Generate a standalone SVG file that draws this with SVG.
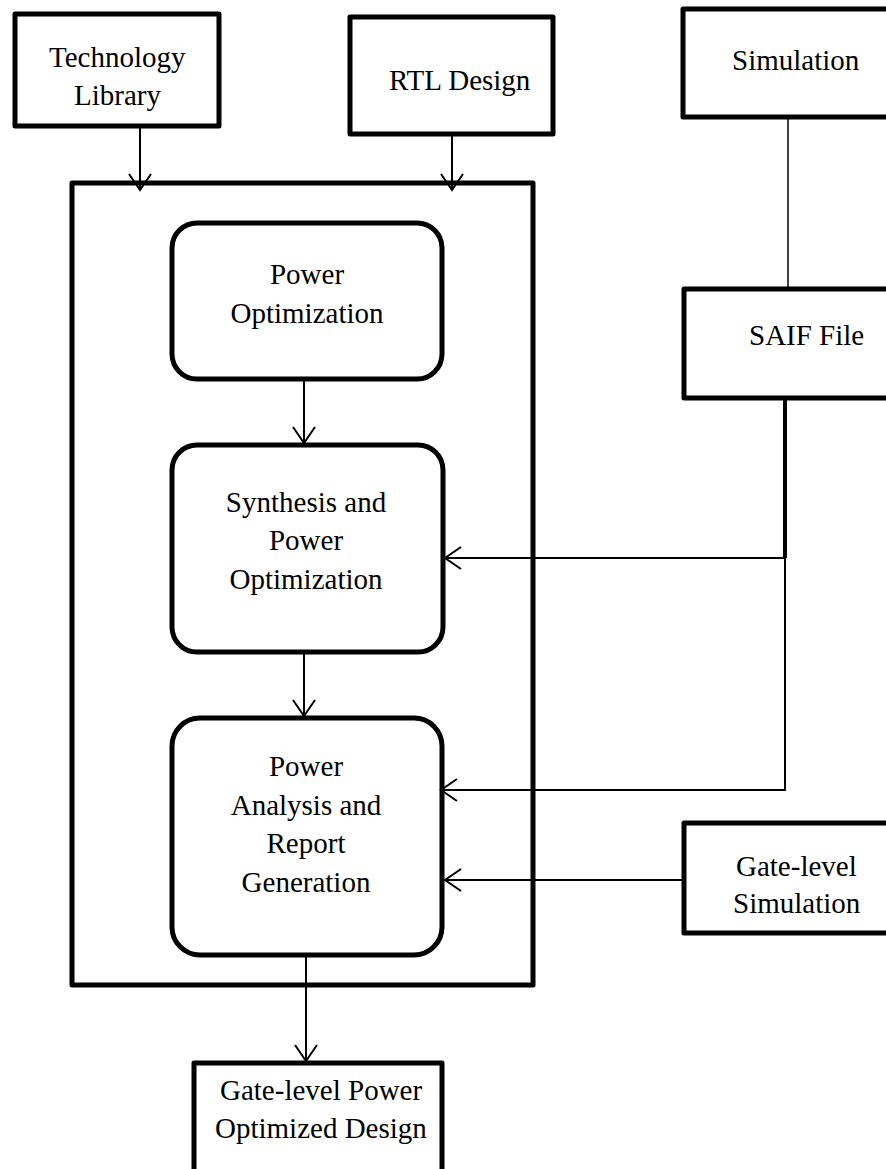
<svg xmlns="http://www.w3.org/2000/svg" width="886" height="1169" viewBox="0 0 886 1169">
<style>
.box{fill:#fff;stroke:#000;stroke-width:5;stroke-linejoin:round}
.t{font-family:"Liberation Serif","Times New Roman",serif;font-size:29px;fill:#000}
.c{text-anchor:middle}
.conn{fill:none;stroke:#000;stroke-width:2}
</style>
<defs>
<marker id="arr" viewBox="-18 -12 20 24" markerWidth="20" markerHeight="24" markerUnits="userSpaceOnUse" refX="0" refY="0" orient="auto">
<path d="M-16,-11 L0,0 L-16,11" fill="none" stroke="#000" stroke-width="2"/>
</marker>
</defs>
<rect width="886" height="1169" fill="#fff"/>
<g id="outer"><rect class="box" x="72" y="183" width="461" height="802" fill="none" style="fill:none"/></g>
<g id="tech"><rect class="box" x="15" y="14" width="204" height="112"/><text class="t" x="49" y="67">Technology</text><text class="t" x="74" y="105">Library</text></g>
<g id="rtl"><rect class="box" x="350" y="17" width="203" height="117"/><text class="t" x="389" y="90">RTL Design</text></g>
<g id="sim"><rect class="box" x="683" y="9" width="215" height="108"/><text class="t" x="732" y="70">Simulation</text></g>
<g id="saif"><rect class="box" x="684" y="289" width="215" height="109"/><text class="t" x="749" y="345">SAIF File</text></g>
<g id="glsim"><rect class="box" x="684" y="823" width="215" height="110"/><text class="t" x="736" y="876">Gate-level</text><text class="t" x="733" y="913">Simulation</text></g>
<g id="popt"><rect class="box" x="172" y="223" width="270" height="156" rx="25"/><text class="t c" x="307" y="284">Power</text><text class="t c" x="307" y="323">Optimization</text></g>
<g id="synth"><rect class="box" x="172" y="445" width="271" height="207" rx="25"/><text class="t c" x="306" y="512">Synthesis and</text><text class="t c" x="306" y="550">Power</text><text class="t c" x="306" y="589">Optimization</text></g>
<g id="pa"><rect class="box" x="172" y="718" width="270" height="237" rx="28"/><text class="t c" x="306" y="776">Power</text><text class="t c" x="306" y="815">Analysis and</text><text class="t c" x="306" y="853">Report</text><text class="t c" x="306" y="892">Generation</text></g>
<g id="glpower"><rect class="box" x="194" y="1063" width="248" height="130"/><text class="t" x="220" y="1100">Gate-level Power</text><text class="t" x="215" y="1138">Optimized Design</text></g>
<g id="connectors">
<line class="conn" x1="140" y1="127" x2="140" y2="190" marker-end="url(#arr)"/>
<line class="conn" x1="452" y1="135" x2="452" y2="190" marker-end="url(#arr)"/>
<line class="conn" x1="304" y1="380" x2="304" y2="443" marker-end="url(#arr)"/>
<line class="conn" x1="304" y1="653" x2="304" y2="716" marker-end="url(#arr)"/>
<line class="conn" x1="306" y1="956" x2="306" y2="1061" marker-end="url(#arr)"/>
<line class="conn" x1="788" y1="117" x2="788" y2="289" style="stroke-width:1.5"/>
<line class="conn" x1="785" y1="398" x2="785" y2="558" style="stroke-width:4"/>
<polyline class="conn" points="785,558 445,558" marker-end="url(#arr)"/>
<polyline class="conn" points="785,558 785,790 441,790" marker-end="url(#arr)"/>
<polyline class="conn" points="684,880 445,880" marker-end="url(#arr)"/>
</g>
</svg>
